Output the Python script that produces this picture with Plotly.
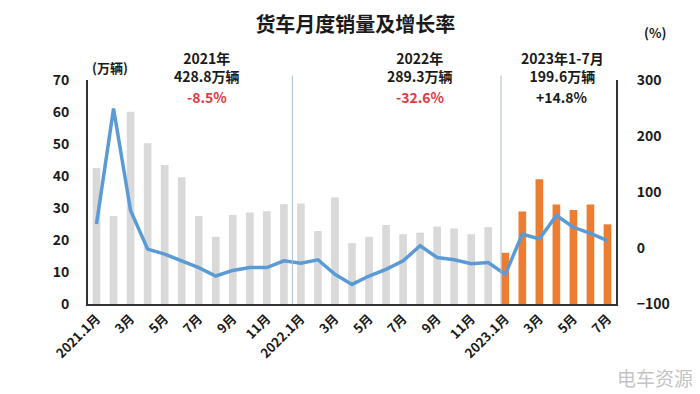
import plotly.graph_objects as go

months = ["2021.1月","2月","3月","4月","5月","6月","7月","8月","9月","10月","11月","12月",
          "2022.1月","2月","3月","4月","5月","6月","7月","8月","9月","10月","11月","12月",
          "2023.1月","2月","3月","4月","5月","6月","7月"]
sales = [42.5, 27.5, 60.1, 50.2, 43.4, 39.6, 27.5, 21.0, 27.8, 28.6, 29.0, 31.2,
         31.4, 22.8, 33.3, 19.0, 21.0, 24.7, 21.8, 22.3, 24.2, 23.6, 21.8, 24.0,
         16.0, 28.9, 39.0, 31.1, 29.4, 31.1, 24.9]
growth = [43, 249, 67, -2, -11, -23, -35, -50, -40, -35, -35, -23,
          -27, -21, -47, -65, -50, -38, -23, 4, -17, -21, -28, -26,
          -47, 25, 16, 58, 37, 26, 13]
year_titles = ["2021年", "2022年", "2023年1-7月"]
year_totals = ["428.8万辆", "289.3万辆", "199.6万辆"]
year_rates = ["-8.5%", "-32.6%", "+14.8%"]

x = list(range(len(months)))
bar_colors = ["#d9d9d9"] * 24 + ["#ed7d31"] * 7
tickvals = x[::2]
ticktext = [months[i] for i in tickvals]

FONT = "Noto Sans CJK SC"

fig = go.Figure()
fig.add_trace(go.Bar(x=x, y=sales, marker_color=bar_colors, width=0.45,
                     marker_line_width=0, yaxis="y"))
fig.add_trace(go.Scatter(x=x, y=growth, mode="lines", yaxis="y2",
                         line=dict(color="#5b9bd5", width=3.5)))

fig.update_layout(
    width=692, height=386,
    margin=dict(l=80, r=84, t=72, b=90),
    paper_bgcolor="white", plot_bgcolor="white",
    showlegend=False,
    font=dict(family=FONT, color="#1a1a1a"),
    title=dict(text="<b>货车月度销量及增长率</b>", x=0.502, y=0.957,
               xanchor="center", yanchor="middle",
               font=dict(size=20, family=FONT, color="#1a1a1a")),
    xaxis=dict(range=[-0.5, 30.5], tickvals=tickvals, ticktext=ticktext,
               tickangle=-45, tickfont=dict(size=13, family=FONT, weight="bold"),
               showline=True, linecolor="#333", linewidth=2, showgrid=False,
               ticks="", zeroline=False),
    yaxis=dict(range=[0, 70], dtick=10, showgrid=False, zeroline=False,
               showline=True, linecolor="#333", linewidth=2,
               tickfont=dict(size=14, family=FONT, weight="bold"),
               ticklabelstandoff=14),
    yaxis2=dict(range=[-100, 300], dtick=100, overlaying="y", side="right",
                showgrid=False, zeroline=False, showline=True,
                linecolor="#333", linewidth=2,
                tickfont=dict(size=14, family=FONT, weight="bold"),
                ticklabelstandoff=16),
)

for xv in [11.5, 23.75]:
    fig.add_shape(type="line", xref="x", yref="paper", x0=xv, x1=xv, y0=0, y1=1.02,
                  line=dict(color="#a8bbd0", width=1))

centers = [0.225, 0.629, 0.898]
for i in range(3):
    fig.add_annotation(xref="paper", yref="paper", x=centers[i], y=1.058,
                       xanchor="center", yanchor="middle", align="center",
                       text="<b>" + year_titles[i] + "</b><br><b>" + year_totals[i] + "</b>",
                       showarrow=False,
                       font=dict(size=14, family=FONT, color="#1a1a1a"))
    fig.add_annotation(xref="paper", yref="paper", x=centers[i], y=0.924,
                       xanchor="center", yanchor="middle",
                       text="<b>" + year_rates[i] + "</b>", showarrow=False,
                       font=dict(size=14, family=FONT,
                                 color="#1a1a1a" if year_rates[i].startswith("+") else "#e03a40"))

fig.add_annotation(xref="paper", yref="paper", x=0.042, y=1.058, text="<b>(万辆)</b>",
                   xanchor="center", yanchor="middle",
                   showarrow=False, font=dict(size=13, family=FONT, color="#1a1a1a"))
fig.add_annotation(xref="paper", yref="paper", x=1.074, y=1.21, text="<b>(%)</b>",
                   xanchor="center", yanchor="middle",
                   showarrow=False, font=dict(size=13, family=FONT, color="#1a1a1a"))
fig.add_annotation(xref="paper", yref="paper", x=1.074, y=-0.33, text="电车资源",
                   xanchor="center", yanchor="middle",
                   showarrow=False, font=dict(size=19, family=FONT, color="#c4c4c4"))

fig.write_html("out.html")
